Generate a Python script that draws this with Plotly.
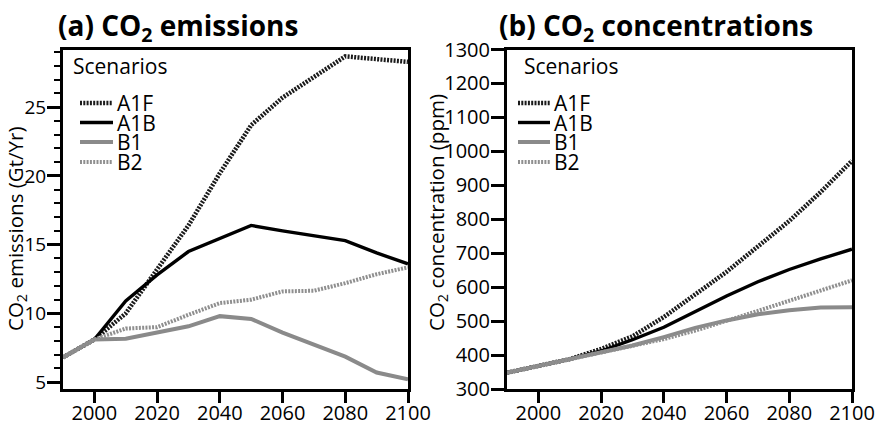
import plotly.graph_objects as go
from plotly.subplots import make_subplots

# Scenario time axis (years)
years = [1990, 2000, 2010, 2020, 2030, 2040, 2050, 2060, 2070, 2080, 2090, 2100]

# (a) CO2 emissions, Gt/Yr
emis_a1f = [6.8, 8.1, 10.0, 13.2, 16.4, 20.2, 23.7, 25.7, 27.2, 28.7, 28.5, 28.3]
emis_a1b = [6.8, 8.1, 10.9, 12.8, 14.5, 15.45, 16.4, 16.0, 15.65, 15.3, 14.4, 13.6]
emis_b1 = [6.8, 8.1, 8.15, 8.6, 9.06, 9.8, 9.6, 8.6, 7.7, 6.85, 5.7, 5.2]
emis_b2 = [6.8, 8.1, 8.9, 9.0, 9.9, 10.75, 11.0, 11.6, 11.65, 12.2, 12.85, 13.35]

# (b) CO2 concentrations, ppm
conc_a1f = [348, 368, 388, 418, 455, 512, 578, 645, 720, 795, 880, 972]
conc_a1b = [348, 368, 388, 412, 445, 482, 528, 574, 616, 652, 683, 712]
conc_b1 = [348, 368, 388, 408, 428, 453, 480, 502, 520, 532, 540, 541]
conc_b2 = [348, 368, 388, 405, 425, 447, 472, 500, 530, 560, 590, 620]

scenario_names = ["A1F", "A1B", "B1", "B2"]
line_styles = {
    "A1F": dict(color="#1a1a1a", width=4.5, dash="2px,1.3px"),
    "A1B": dict(color="#000000", width=3.4),
    "B1": dict(color="#8a8a8a", width=4),
    "B2": dict(color="#8f8f8f", width=4, dash="2px,1.3px"),
}

FONT = "Open Sans"
W, H = 880, 426

fig = make_subplots(rows=1, cols=2, horizontal_spacing=0.1)

for name, ys in zip(scenario_names, [emis_a1f, emis_a1b, emis_b1, emis_b2]):
    fig.add_trace(go.Scatter(x=years, y=ys, mode="lines", name=name,
                             line=line_styles[name], showlegend=False),
                  row=1, col=1)
for name, ys in zip(scenario_names, [conc_a1f, conc_a1b, conc_b1, conc_b2]):
    fig.add_trace(go.Scatter(x=years, y=ys, mode="lines", name=name,
                             line=line_styles[name], showlegend=False),
                  row=1, col=2)

y_bot = 1 - 389 / H
y_top = 1 - 49.5 / H

frame = dict(
    showline=True, linewidth=3, linecolor="black", mirror=True,
    ticks="outside", tickwidth=2.5, tickcolor="black",
    showgrid=False, zeroline=False, automargin=False,
)

fig.update_xaxes(range=[1990, 2100], tick0=2000, dtick=20, ticklen=11,
                 ticklabelstandoff=-7,
                 tickfont=dict(family=FONT, size=20, color="black"), **frame)
fig.update_xaxes(domain=[63 / W, 408 / W], row=1, col=1)
fig.update_xaxes(domain=[507 / W, 852 / W], row=1, col=2)

fig.update_yaxes(range=[4.5, 29.2], tick0=5, dtick=5, domain=[y_bot, y_top],
                 ticklen=13, ticklabelstandoff=-3,
                 tickfont=dict(family=FONT, size=19, color="black"),
                 minor=dict(ticks="outside", dtick=1, ticklen=6, tickwidth=2,
                            tickcolor="black"),
                 row=1, col=1, **frame)
fig.update_yaxes(range=[300, 1300], tick0=300, dtick=100, domain=[y_bot, y_top],
                 ticklen=13, ticklabelstandoff=-3,
                 tickfont=dict(family=FONT, size=20, color="black"),
                 row=1, col=2, **frame)

annotations = []
shapes = []

# Panel titles
title_font = dict(family=FONT, size=28, color="black")
annotations.append(dict(text="<b>(a) CO<sub>2</sub> emissions</b>", x=56 / W, y=1 - 27 / H,
                        xref="paper", yref="paper", xanchor="left", yanchor="middle",
                        showarrow=False, font=title_font))
annotations.append(dict(text="<b>(b) CO<sub>2</sub> concentrations</b>", x=497 / W, y=1 - 27 / H,
                        xref="paper", yref="paper", xanchor="left", yanchor="middle",
                        showarrow=False, font=title_font))

# Axis titles
axis_title_font = dict(family=FONT, size=20.5, color="black")
annotations.append(dict(text="CO<sub>2</sub> emissions (Gt/Yr)", x=16 / W, y=1 - 229 / H,
                        xref="paper", yref="paper", xanchor="center", yanchor="middle",
                        textangle=-90, showarrow=False, font=axis_title_font))
annotations.append(dict(text="CO<sub>2</sub> concentration (ppm)", x=437 / W, y=1 - 213 / H,
                        xref="paper", yref="paper", xanchor="center", yanchor="middle",
                        textangle=-90, showarrow=False, font=axis_title_font))

# Scenario keys inside each panel
key_font = dict(family=FONT, size=21, color="black")
key_layouts = [
    dict(title_x=71, line_x0=80, line_x1=113, text_x=115),
    dict(title_x=522, line_x0=518, line_x1=550, text_x=552),
]
key_rows = [103, 122.5, 142, 162]
for kl in key_layouts:
    annotations.append(dict(text="Scenarios", x=kl["title_x"] / W, y=1 - 66 / H,
                            xref="paper", yref="paper", xanchor="left", yanchor="middle",
                            showarrow=False, font=key_font))
    for name, py in zip(scenario_names, key_rows):
        shapes.append(dict(type="line", xref="paper", yref="paper",
                           x0=kl["line_x0"] / W, x1=kl["line_x1"] / W,
                           y0=1 - py / H, y1=1 - py / H, line=dict(line_styles[name])))
        annotations.append(dict(text=name, x=kl["text_x"] / W, y=1 - py / H,
                                xref="paper", yref="paper", xanchor="left", yanchor="middle",
                                showarrow=False, font=key_font))

fig.update_layout(
    width=W, height=H, autosize=False,
    margin=dict(l=0, r=0, t=0, b=0, pad=0, autoexpand=False),
    paper_bgcolor="white", plot_bgcolor="white",
    font=dict(family=FONT, color="black"),
    annotations=annotations, shapes=shapes,
    showlegend=False,
)

fig.write_html("out.html")
